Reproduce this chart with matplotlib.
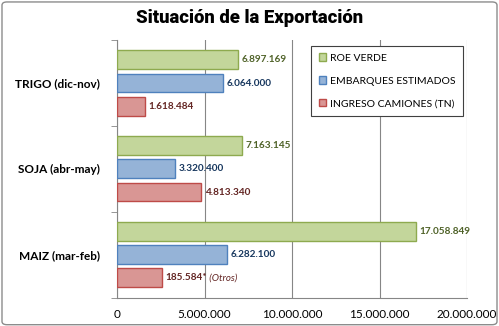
import numpy as np
import matplotlib.pyplot as plt
from matplotlib.patches import FancyBboxPatch, Patch
from matplotlib.ticker import FuncFormatter

plt.rcParams['font.family'] = ['Lato', 'DejaVu Sans']

# Datos (toneladas)
productos = ['MAIZ (mar-feb)', 'SOJA (abr-may)', 'TRIGO (dic-nov)']
roe_verde = [17058849, 7163145, 6897169]
embarques = [6282100, 3320400, 6064000]
camiones = [2570000, 4813340, 1618484]
etiquetas_camiones = ['185.584*', '4.813.340', '1.618.484']

series = ['ROE VERDE', 'EMBARQUES ESTIMADOS', 'INGRESO CAMIONES (TN)']
relleno = ['#C3D69B', '#95B3D7', '#D99694']
borde = ['#8EAA4F', '#4F81BD', '#BE4B48']
texto = ['#4F6228', '#17375E', '#632523']


def miles(v):
    return f'{int(v):,}'.replace(',', '.')


fig = plt.figure(figsize=(4.99, 3.26), dpi=100)
ax = fig.add_axes([0.2345, 0.087, 0.7015, 0.79])

y = np.arange(len(productos))
paso = 0.27
alto = 0.22
valores = [roe_verde, embarques, camiones]
for i, vals in enumerate(valores):
    off = paso * (1 - i)
    ax.barh(y + off, vals, height=alto, color=relleno[i], edgecolor=borde[i],
            linewidth=1, zorder=3)
    for j, v in enumerate(vals):
        lab = etiquetas_camiones[j] if i == 2 else miles(v)
        t = ax.text(v + 200000, y[j] + off, lab, va='center', ha='left',
                    fontsize=7.2, fontweight='bold', color=texto[i], zorder=4)
        if i == 2 and j == 0:
            ax.annotate(' (Otros)', xycoords=t, xy=(1, 0.5), va='center',
                        ha='left', fontsize=7, style='italic', color=texto[i])

ax.set_xlim(0, 20000000)
ax.set_ylim(-0.5, 2.5)
ax.set_xticks(np.arange(0, 20000001, 5000000))
ax.xaxis.set_major_formatter(FuncFormatter(lambda v, p: miles(v)))
ax.set_yticks(y)
ax.set_yticklabels(productos, fontsize=8.5, fontweight='bold')
ax.set_yticks([-0.5, 0.5, 1.5, 2.5], minor=True)
ax.tick_params(axis='y', which='major', length=0, pad=12)
ax.tick_params(axis='y', which='minor', length=4, color='#868686')
ax.tick_params(axis='x', length=0, labelsize=8.5, pad=8)
ax.grid(axis='x', color='#868686', linewidth=0.8, zorder=0)
for s in ['top', 'right']:
    ax.spines[s].set_visible(False)
for s in ['left', 'bottom']:
    ax.spines[s].set_color('#868686')

handles = [Patch(facecolor=relleno[i], edgecolor=borde[i], label=series[i])
           for i in range(3)]
leg = fig.legend(handles=handles, loc='upper left',
                 bbox_to_anchor=(0.623, 0.86), fontsize=7.5,
                 handlelength=0.7, handleheight=0.7, handletextpad=0.4,
                 labelspacing=1.3, borderpad=0.75, borderaxespad=0,
                 fancybox=False, edgecolor='#404040', framealpha=1)
leg.get_frame().set_linewidth(0.8)

fig.text(0.5, 0.945, 'Situación de la Exportación', ha='center', va='center',
         fontsize=13.3, fontweight='black', family=['Roboto', 'DejaVu Sans'])

marco = FancyBboxPatch((0.004, 0.004), 0.992, 0.99, transform=fig.transFigure,
                       boxstyle='round,pad=0,rounding_size=0.01',
                       facecolor='none', edgecolor='#8C8C8C', linewidth=1)
fig.patches.append(marco)

fig.savefig('out.png', dpi=100)
